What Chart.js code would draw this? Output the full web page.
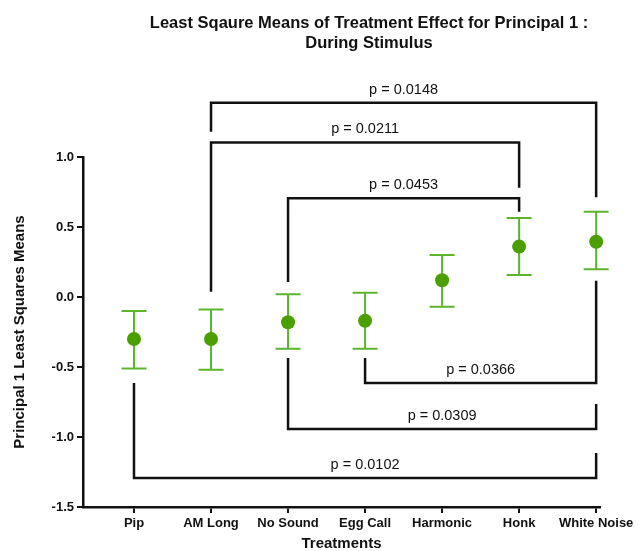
<!DOCTYPE html>
<html>
<head>
<meta charset="utf-8">
<script src="https://cdn.jsdelivr.net/npm/chart.js@4.4.1/dist/chart.umd.min.js"></script>
<style>
  html, body { margin: 0; padding: 0; background: #fff; }
  #wrap { width: 638px; height: 551px; }
</style>
</head>
<body>
<div id="wrap"><canvas id="chart"></canvas></div>
<script>
var treatments = ['Pip', 'AM Long', 'No Sound', 'Egg Call', 'Harmonic', 'Honk', 'White Noise'];
var means = [-0.30, -0.30, -0.18, -0.17, 0.12, 0.36, 0.395];
var upper = [-0.10, -0.09, 0.02, 0.03, 0.30, 0.564, 0.609];
var lower = [-0.51, -0.52, -0.37, -0.37, -0.07, 0.157, 0.198];
var yTicks = [-1.5, -1.0, -0.5, 0.0, 0.5, 1.0];

// pairwise comparisons (category indexes, bracket level and leg ends in y units)
var pairFrom = [1, 1, 2, 3, 2, 0];
var pairTo = [6, 5, 5, 6, 6, 6];
var pairLevel = [1.388, 1.104, 0.705, -0.614, -0.943, -1.293];
var legFromEnd = [1.181, 0.038, 0.107, -0.436, -0.436, -0.614];
var legToEnd = [0.712, 0.781, 0.609, 0.116, -0.764, -1.114];
var pLabels = ['p = 0.0148', 'p = 0.0211', 'p = 0.0453', 'p = 0.0366', 'p = 0.0309', 'p = 0.0102'];

var fontFamily = '"Liberation Sans", Arial, sans-serif';
var green = '#4c9f00';
var barGreen = '#5cb52c';

var points = means.map(function (m, i) {
  return { x: i, y: m };
});

var errorBars = {
  id: 'errorBars',
  beforeDatasetsDraw: function (chart) {
    var x = chart.scales.x;
    var y = chart.scales.y;
    var ctx = chart.ctx;
    ctx.save();
    ctx.strokeStyle = barGreen;
    ctx.lineWidth = 2;
    for (var i = 0; i < means.length; i++) {
      var px = x.getPixelForValue(i);
      var top = y.getPixelForValue(upper[i]);
      var bot = y.getPixelForValue(lower[i]);
      ctx.beginPath();
      ctx.moveTo(px, top);
      ctx.lineTo(px, bot);
      ctx.moveTo(px - 12.5, top);
      ctx.lineTo(px + 12.5, top);
      ctx.moveTo(px - 12.5, bot);
      ctx.lineTo(px + 12.5, bot);
      ctx.stroke();
    }
    ctx.restore();
  }
};

var brackets = {
  id: 'brackets',
  afterDraw: function (chart) {
    var x = chart.scales.x;
    var y = chart.scales.y;
    var ctx = chart.ctx;
    ctx.save();
    ctx.strokeStyle = '#111';
    ctx.lineWidth = 2.5;
    ctx.fillStyle = '#111';
    ctx.font = '14.5px ' + fontFamily;
    ctx.textAlign = 'center';
    ctx.textBaseline = 'middle';
    for (var i = 0; i < pairFrom.length; i++) {
      var x1 = x.getPixelForValue(pairFrom[i]);
      var x2 = x.getPixelForValue(pairTo[i]);
      var ly = y.getPixelForValue(pairLevel[i]);
      ctx.beginPath();
      ctx.moveTo(x1, y.getPixelForValue(legFromEnd[i]));
      ctx.lineTo(x1, ly);
      ctx.lineTo(x2, ly);
      ctx.lineTo(x2, y.getPixelForValue(legToEnd[i]));
      ctx.stroke();
      ctx.fillText(pLabels[i], (x1 + x2) / 2, ly - 13);
    }
    ctx.restore();
  }
};

var titleText = {
  id: 'titleText',
  afterDraw: function (chart) {
    var ctx = chart.ctx;
    ctx.save();
    ctx.fillStyle = '#111';
    ctx.font = 'bold 16.5px ' + fontFamily;
    ctx.textAlign = 'center';
    ctx.textBaseline = 'middle';
    ctx.fillText('Least Sqaure Means of Treatment Effect for Principal 1 :', 369, 23);
    ctx.fillText('During Stimulus', 369, 43);
    ctx.restore();
  }
};

new Chart(document.getElementById('chart'), {
  type: 'scatter',
  data: {
    datasets: [{
      data: points,
      backgroundColor: green,
      borderWidth: 0,
      pointRadius: 7,
      pointHoverRadius: 7,
      clip: false
    }]
  },
  options: {
    responsive: true,
    maintainAspectRatio: false,
    animation: false,
    layout: { padding: { top: 157, right: 38, bottom: 0, left: 0 } },
    plugins: {
      legend: { display: false },
      tooltip: { enabled: false }
    },
    scales: {
      x: {
        type: 'linear',
        min: -0.662,
        max: 6.05,
        afterBuildTicks: function (scale) {
          scale.ticks = treatments.map(function (t, i) { return { value: i }; });
        },
        afterFit: function (scale) { scale.height = 44; },
        grid: { display: true, drawOnChartArea: false, drawTicks: true, tickLength: 6, color: '#111', lineWidth: 2 },
        border: { display: true, color: '#111', width: 2.5 },
        ticks: {
          color: '#111',
          padding: 3,
          maxRotation: 0,
          autoSkip: false,
          font: { family: fontFamily, size: 13, weight: 'bold' },
          callback: function (v) { return treatments[v]; }
        },
        title: {
          display: true,
          text: 'Treatments',
          color: '#111',
          padding: { top: 0, bottom: -2 },
          font: { family: fontFamily, size: 15, weight: 'bold' }
        }
      },
      y: {
        min: -1.5,
        max: 1.0,
        afterBuildTicks: function (scale) {
          scale.ticks = yTicks.map(function (v) { return { value: v }; });
        },
        afterFit: function (scale) { scale.width = 83; },
        grid: { display: true, drawOnChartArea: false, drawTicks: true, tickLength: 6, color: '#111', lineWidth: 2 },
        border: { display: true, color: '#111', width: 2.5 },
        ticks: {
          color: '#111',
          padding: 3,
          font: { family: fontFamily, size: 13, weight: 'bold' },
          callback: function (v) { return v.toFixed(1); }
        },
        title: {
          display: true,
          text: 'Principal 1 Least Squares Means',
          color: '#111',
          padding: { top: 11, bottom: 0 },
          font: { family: fontFamily, size: 15, weight: 'bold' }
        }
      }
    }
  },
  plugins: [errorBars, brackets, titleText]
});
</script>
</body>
</html>
